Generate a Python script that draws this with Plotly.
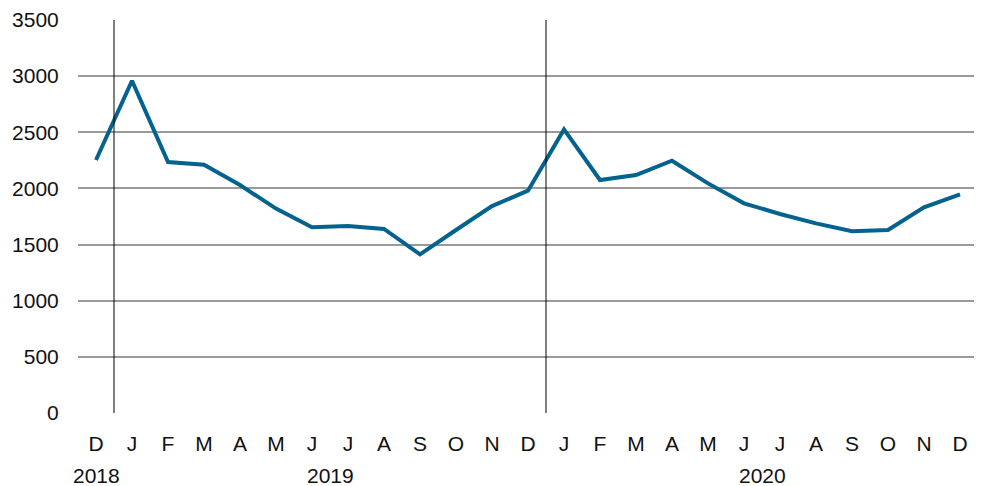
import plotly.graph_objects as go

months = ["D", "J", "F", "M", "A", "M", "J", "J", "A", "S", "O", "N", "D",
          "J", "F", "M", "A", "M", "J", "J", "A", "S", "O", "N", "D"]
years = [2018] + [2019] * 12 + [2020] * 12
values = [2253, 2959, 2235, 2211, 2030, 1820, 1654, 1665, 1639, 1413, 1630, 1843, 1980,
          2526, 2075, 2119, 2247, 2045, 1867, 1772, 1689, 1618, 1630, 1831, 1947]
y_ticks = [0, 500, 1000, 1500, 2000, 2500, 3000, 3500]

FONT = "Liberation Sans, Arial, sans-serif"
idx = list(range(len(months)))

fig = go.Figure()
fig.add_trace(go.Scatter(x=idx, y=values, mode="lines",
                         line=dict(color="#04628f", width=4),
                         hoverinfo="skip", showlegend=False))

# year separators
for i in range(1, len(years)):
    if years[i] != years[i - 1]:
        fig.add_shape(type="line", xref="x", yref="y", x0=i - 0.5, x1=i - 0.5,
                      y0=y_ticks[0], y1=y_ticks[-1], line=dict(color="black", width=1))

# year labels
for yr in sorted(set(years)):
    pos = [i for i, y in enumerate(years) if y == yr]
    fig.add_annotation(x=sum(pos) / len(pos), y=-0.160, xref="x", yref="paper",
                       text=str(yr), showarrow=False, yanchor="middle",
                       font=dict(family=FONT, size=21, color="#111"))

# the page body adds an 8px offset, so the figure is 8px smaller and margins shifted
fig.update_layout(
    width=974, height=478,
    margin=dict(l=70, r=4, t=12, b=73),
    paper_bgcolor="white", plot_bgcolor="white",
    font=dict(family=FONT, size=21, color="#111"),
    xaxis=dict(range=[-0.5, len(months) - 0.5], tickvals=idx, ticktext=months,
               showgrid=False, zeroline=False, showline=False, automargin=False,
               ticks="outside", ticklen=12, tickcolor="rgba(0,0,0,0)",
               tickfont=dict(family=FONT, size=21, color="#111")),
    yaxis=dict(range=[0, 3500], tickvals=y_ticks, showgrid=True, automargin=False,
               gridcolor="#9a9a9a", gridwidth=1.5, zeroline=False, showline=False,
               ticks="outside", ticklen=14, tickcolor="rgba(0,0,0,0)",
               tickfont=dict(family=FONT, size=21, color="#111")),
)

fig.write_html("out.html")
